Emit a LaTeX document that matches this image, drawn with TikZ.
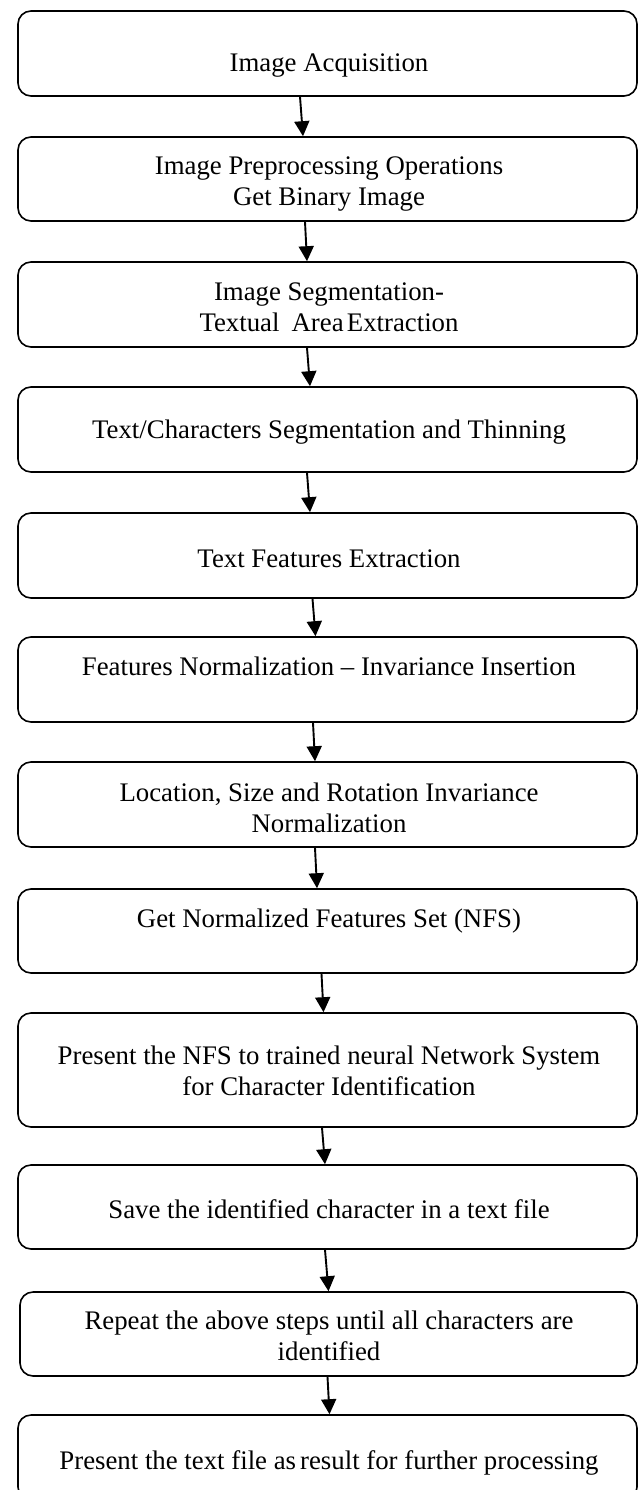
\documentclass[tikz,border=0pt]{standalone}
\usepackage{fontspec}
\setmainfont{Liberation Serif}
\usetikzlibrary{arrows.meta}
\begin{document}
\begin{tikzpicture}[x=1pt, y=-1pt,
  stepbox/.style={draw=black, line width=1.6pt, rounded corners=13pt,
    minimum width=619pt, inner sep=0pt, fill=white},
  steptext/.style={anchor=base, align=center, inner sep=0pt,
    font=\fontsize{26.8}{31}\selectfont},
  flow/.style={line width=1.9pt, -{Triangle[length=15pt,width=15pt]}}]
\useasboundingbox[fill=white] (0,0) rectangle (638,1490);

% process boxes, top to bottom
\node[stepbox, minimum height=85pt] (b1)  at (327.5,53.5)  {};
\node[stepbox, minimum height=84pt] (b2)  at (327.5,179)   {};
\node[stepbox, minimum height=85pt] (b3)  at (327.5,304.5) {};
\node[stepbox, minimum height=85pt] (b4)  at (327.5,429.5) {};
\node[stepbox, minimum height=85pt] (b5)  at (327.5,555.5) {};
\node[stepbox, minimum height=85pt] (b6)  at (327.5,679.5) {};
\node[stepbox, minimum height=85pt] (b7)  at (327.5,804.5) {};
\node[stepbox, minimum height=84pt] (b8)  at (327.5,931)   {};
\node[stepbox, minimum height=114pt] (b9) at (327.5,1070)  {};
\node[stepbox, minimum height=84pt] (b10) at (327.5,1207)  {};
\node[stepbox, minimum height=84pt, minimum width=617pt] (b11) at (328.5,1334) {};
\node[stepbox, minimum height=85pt] (b12) at (327.5,1457.5) {};

% box captions (base anchor = baseline of the last line)
\node[steptext] (t1)  at (329,72)   {Image Acquisition};
\node[steptext] (t2)  at (329,205)  {Image Preprocessing Operations\\Get Binary Image};
\node[steptext] (t3)  at (329,331)  {Image Segmentation-\\Textual\hspace{0.45em}Area\hspace{0.12em}Extraction};
\node[steptext] (t4)  at (329,438)  {Text/Characters Segmentation and Thinning};
\node[steptext] (t5)  at (329,567)  {Text Features Extraction};
\node[steptext] (t6)  at (329,675)  {Features Normalization -- Invariance Insertion};
\node[steptext] (t7)  at (329,832)  {Location, Size and Rotation Invariance\\Normalization};
\node[steptext] (t8)  at (329,927)  {Get Normalized Features Set (NFS)};
\node[steptext] (t9)  at (329,1095) {Present the NFS to trained neural Network System\\for Character Identification};
\node[steptext] (t10) at (329,1218) {Save the identified character in a text file};
\node[steptext] (t11) at (329,1360) {Repeat the above steps until all characters are\\identified};
\node[steptext] (t12) at (329,1469) {Present the text file as\hspace{0.15em}result for further processing};

% flow arrows
\draw[flow] ([xshift=-27.5pt]b1.south)  -- ([xshift=-24.5pt]b2.north);
\draw[flow] ([xshift=-22.5pt]b2.south)  -- ([xshift=-20.5pt]b3.north);
\draw[flow] ([xshift=-20.5pt]b3.south)  -- ([xshift=-17.5pt]b4.north);
\draw[flow] ([xshift=-20.5pt]b4.south)  -- ([xshift=-17.5pt]b5.north);
\draw[flow] ([xshift=-15pt]b5.south)    -- ([xshift=-12pt]b6.north);
\draw[flow] ([xshift=-14.5pt]b6.south)  -- ([xshift=-12.5pt]b7.north);
\draw[flow] ([xshift=-12.5pt]b7.south)  -- ([xshift=-10.5pt]b8.north);
\draw[flow] ([xshift=-6pt]b8.south)     -- ([xshift=-4pt]b9.north);
\draw[flow] ([xshift=-5.5pt]b9.south)   -- ([xshift=-2.5pt]b10.north);
\draw[flow] ([xshift=-2.5pt]b10.south)  -- ([xshift=0pt]b11.north);
\draw[flow] ([xshift=-1pt]b11.south)    -- ([xshift=2pt]b12.north);
\end{tikzpicture}
\end{document}
